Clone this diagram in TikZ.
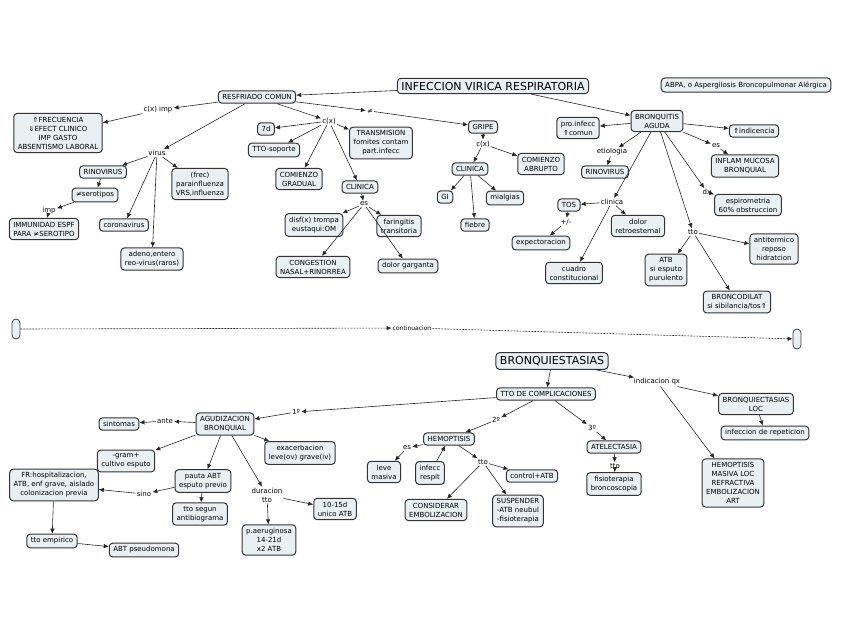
\documentclass[tikz,border=0pt]{standalone}
\usepackage{fontspec}
\setmainfont{DejaVu Sans}
\usetikzlibrary{arrows.meta}
\definecolor{boxfill}{HTML}{E8F0F4}
\begin{document}
\begin{tikzpicture}[x=1pt,y=-1pt,
 c/.style={draw=black!80,line width=1pt,fill=boxfill,rounded corners=3.5pt,align=center,font=\fontsize{7}{9}\selectfont,inner xsep=4pt,inner ysep=3.5pt},
 big/.style={c,font=\fontsize{11}{13}\selectfont},
 l/.style={font=\fontsize{7}{9}\selectfont,inner sep=1pt,fill=white,align=center},
 a/.style={-{Latex[length=5pt,width=4.5pt]},line width=0.6pt,black!85},
 capsule/.style={draw=black!75,line width=0.8pt,fill=boxfill,rounded corners=4pt,minimum width=8pt,minimum height=20pt,inner sep=0pt}]
\useasboundingbox (0,0) rectangle (848,638);
% top
\node[big] (T) at (493,86) {INFECCION VIRICA RESPIRATORIA};
\node[c] (ABPA) at (746,85) {ABPA, o Aspergilosis Broncopulmonar Alérgica};
\node[c] (RC) at (257,97) {RESFRIADO COMUN};
\node[l] (cximp) at (158,110) {c(x) imp};
\node[c] (FREC) at (58,133) {⇑FRECUENCIA\\⇓EFECT CLINICO\\IMP GASTO\\ABSENTISMO LABORAL};
\node[l] (virus) at (157,153) {virus};
\node[c] (RIN1) at (103,172) {RINOVIRUS};
\node[c] (ser) at (95,195) {≠serotipos};
\node[l] (imp) at (49,211) {imp};
\node[c] (IMM) at (44,229) {IMMUNIDAD ESPF\\PARA ≠SEROTIPO};
\node[c] (coro) at (124,225) {coronavirus};
\node[c] (para) at (200,184) {(frec)\\parainfluenza\\VRS,influenza};
\node[c] (adeno) at (152,259) {adeno,entero\\reo-virus(raros)};
\node[l] (cx1) at (329,121) {c(x)};
\node[c] (7d) at (266,129) {7d};
\node[c] (tto1) at (274,150) {TTO-soporte};
\node[c] (grad) at (299,179) {COMIENZO\\GRADUAL};
\node[c] (trans) at (381,143) {TRANSMISION\\fomites contam\\part.infecc};
\node[c] (cli1) at (360,187) {CLINICA};
\node[l] (es1) at (364,204) {es};
\node[c] (disf) at (314,225) {disf(x) trompa\\eustaqui:OM};
\node[c] (far) at (399,226) {faringitis\\transitoria};
\node[c] (cong) at (313,267) {CONGESTION\\NASAL+RINORREA};
\node[c] (dolg) at (408,266) {dolor garganta};
\node[l] (neq) at (370,111) {≠};
\node[c] (gripe) at (483,127) {GRIPE};
\node[l] (cx2) at (483,144) {c(x)};
\node[c] (abr) at (541,164) {COMIENZO\\ABRUPTO};
\node[c] (cli2) at (470,169) {CLINICA};
\node[c] (GI) at (445,197) {GI};
\node[c] (mial) at (505,198) {mialgias};
\node[c] (fie) at (475,225) {fiebre};
\node[c] (BA) at (657,121) {BRONQUITIS\\AGUDA};
\node[c] (pro) at (578,128) {pro.infecc\\⇑comun};
\node[c] (ind) at (754,131) {⇑indicencia};
\node[l] (es2) at (716,146) {es};
\node[c] (infl) at (745,166) {INFLAM MUCOSA\\BRONQUIAL};
\node[l] (etio) at (612,152) {etiologia};
\node[c] (RIN2) at (605,172) {RINOVIRUS};
\node[l] (dx) at (707,192) {dx};
\node[c] (esp) at (748,205) {espirometria\\60\% obstruccion};
\node[l] (clin) at (612,202) {clinica};
\node[c] (TOS) at (569,205) {TOS};
\node[l] (pm) at (566,222) {+/-};
\node[c] (expe) at (541,243) {expectoracion};
\node[c] (dolr) at (638,226) {dolor\\retroesternal};
\node[l] (tto2) at (693,232) {tto};
\node[c] (ATB) at (666,270) {ATB\\si esputo\\purulento};
\node[c] (anti) at (774,249) {antitermico\\reposo\\hidratcion};
\node[c] (cuad) at (574,273) {cuadro\\constitucional};
\node[c] (bron) at (737,302) {BRONCODILAT\\si sibilancia/tos⇑};
\draw[a] (T) -- (RC);
\draw[a] (T) -- (BA);
\draw[a] (RC) -- (cximp); \draw[a] (cximp) -- (FREC);
\draw[a] (RC) -- (virus);
\draw[a] (virus) -- (RIN1); \draw[a] (virus) -- (para); \draw[a] (virus) -- (coro); \draw[a] (virus) -- (adeno);
\draw[a] (RIN1) -- (ser); \draw[a] (ser) -- (imp); \draw[a] (imp) -- (IMM);
\draw[a] (RC) -- (cx1);
\draw[a] (cx1) -- (7d); \draw[a] (cx1) -- (tto1); \draw[a] (cx1) -- (grad); \draw[a] (cx1) -- (trans); \draw[a] (cx1) -- (cli1);
\draw[a] (cli1) -- (es1);
\draw[a] (es1) -- (disf); \draw[a] (es1) -- (far); \draw[a] (es1) -- (cong); \draw[a] (es1) -- (dolg);
\draw[a] (RC) -- (neq); \draw[a] (neq) -- (gripe);
\draw[a] (gripe) -- (cx2); \draw[a] (cx2) -- (abr); \draw[a] (cx2) -- (cli2);
\draw[a] (cli2) -- (GI); \draw[a] (cli2) -- (mial); \draw[a] (cli2) -- (fie);
\draw[a] (BA) -- (pro); \draw[a] (BA) -- (ind);
\draw[a] (BA) -- (es2); \draw[a] (es2) -- (infl);
\draw[a] (BA) -- (etio); \draw[a] (etio) -- (RIN2);
\draw[a] (BA) -- (dx); \draw[a] (dx) -- (esp);
\draw[a] (BA) -- (clin); \draw[a] (clin) -- (TOS); \draw[a] (clin) -- (dolr); \draw[a] (clin) -- (cuad);
\draw[a] (TOS) -- (pm); \draw[a] (pm) -- (expe);
\draw[a] (BA) -- (tto2); \draw[a] (tto2) -- (ATB); \draw[a] (tto2) -- (anti); \draw[a] (tto2) -- (bron);
% continuacion
\node[capsule] (c1) at (16,329) {};
\node[capsule] (c2) at (797,339) {};
\node[l,font=\fontsize{6}{8}\selectfont] (cont) at (412,328) {continuacion};
\draw[a,dash pattern=on 2pt off 1pt] (c1) -- (cont);
\draw[a,dash pattern=on 2pt off 1pt] (cont) -- (c2);
% bottom
\node[big] (BQ) at (552,361) {BRONQUIESTASIAS};
\node[c] (TC) at (546,394) {TTO DE COMPLICACIONES};
\node[l] (iqx) at (657,382) {indicacion qx};
\node[c] (BL) at (756,404) {BRONQUIECTASIAS\\LOC};
\node[c] (rep) at (765,433) {infeccion de repeticion};
\node[c] (HM) at (733,483) {HEMOPTISIS\\MASIVA LOC\\REFRACTIVA\\EMBOLIZACION\\ART};
\node[l] (p1) at (296,412) {1º};
\node[c] (AG) at (225,424) {AGUDIZACION\\BRONQUIAL};
\node[l] (ante) at (165,421) {ante};
\node[c] (sint) at (119,424) {sintomas};
\node[c] (gram) at (126,461) {-gram+\\cultivo esputo};
\node[c] (exa) at (300,453) {exacerbacion\\leve(ov) grave(iv)};
\node[c] (pau) at (203,481) {pauta ABT\\esputo previo};
\node[l] (sino) at (144,494) {sino};
\node[c] (FR) at (54,485) {FR:hospitalizacion,\\ATB, enf grave, aislado\\colonizacion previa};
\node[c] (seg) at (200,514) {tto segun\\antibiograma};
\node[l] (dur) at (267,495) {duracion\\tto};
\node[c] (d10) at (335,509) {10-15d\\unico ATB};
\node[c] (pae) at (269,540) {p.aeruginosa\\14-21d\\x2 ATB};
\node[c] (emp) at (52,541) {tto empirico};
\node[c] (pseu) at (144,550) {ABT pseudomona};
\node[l] (p2) at (496,420) {2º};
\node[c] (HE) at (449,439) {HEMOPTISIS};
\node[l] (es3) at (407,448) {es};
\node[c] (lev) at (384,472) {leve\\masiva};
\node[c] (inf) at (430,473) {infecc\\respit};
\node[l] (tto3) at (483,462) {tto};
\node[c] (ctl) at (532,476) {control+ATB};
\node[c] (cons) at (436,510) {CONSIDERAR\\EMBOLIZACION};
\node[c] (sus) at (518,511) {SUSPENDER\\-ATB neubul\\-fisioterapia};
\node[l] (p3) at (592,428) {3º};
\node[c] (AT) at (614,447) {ATELECTASIA};
\node[l] (tto4) at (615,466) {tto};
\node[c] (fis) at (614,484) {fisioterapia\\broncoscopia};
\draw[a] (BQ) -- (TC); \draw[a] (BQ) -- (iqx);
\draw[a] (iqx) -- (BL); \draw[a] (iqx) -- (HM); \draw[a] (BL) -- (rep);
\draw[a] (TC) -- (p1); \draw[a] (p1) -- (AG);
\draw[a] (AG) -- (ante); \draw[a] (ante) -- (sint);
\draw[a] (AG) -- (gram); \draw[a] (AG) -- (exa); \draw[a] (AG) -- (pau); \draw[a] (AG) -- (dur);
\draw[a] (pau) -- (sino); \draw[a] (sino) -- (FR); \draw[a] (pau) -- (seg);
\draw[a] (dur) -- (d10); \draw[a] (dur) -- (pae);
\draw[a] (FR) -- (emp); \draw[a] (emp) -- (pseu);
\draw[a] (TC) -- (p2); \draw[a] (p2) -- (HE);
\draw[a] (HE) -- (es3); \draw[a] (es3) -- (lev); \draw[a] (inf) -- (HE);
\draw[a] (HE) -- (tto3); \draw[a] (tto3) -- (ctl); \draw[a] (tto3) -- (cons); \draw[a] (tto3) -- (sus);
\draw[a] (TC) -- (p3); \draw[a] (p3) -- (AT); \draw[a] (AT) -- (tto4); \draw[a] (tto4) -- (fis);
\end{tikzpicture}
\end{document}
